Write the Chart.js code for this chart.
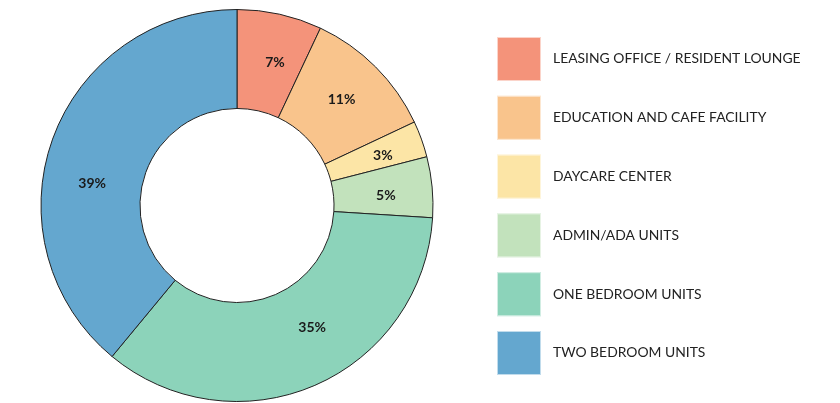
<!DOCTYPE html>
<html lang="en">
<head>
<meta charset="UTF-8">
<title>Space Allocation</title>
<style>
  html, body { margin: 0; padding: 0; background: #fff; }
  #wrap { width: 840px; height: 403px; position: relative; }
</style>
</head>
<body>
<div id="wrap"><canvas id="spaceChart"></canvas></div>

<script src="https://cdn.jsdelivr.net/npm/chart.js"></script>
<script>
  const categories = [
    'LEASING OFFICE / RESIDENT LOUNGE',
    'EDUCATION AND CAFE FACILITY',
    'DAYCARE CENTER',
    'ADMIN/ADA UNITS',
    'ONE BEDROOM UNITS',
    'TWO BEDROOM UNITS'
  ];
  const shares = [7, 11, 3, 5, 35, 39];
  const colours = ['#F4937A', '#F9C48C', '#FCE5A6', '#C2E2BC', '#8CD3BA', '#64A7CF'];

  // small nudges so the percent labels sit where the original has them
  const labelNudge = [[6, 0], [1, -2], [8, 0], [3, 4], [17, -12], [-7, 28]];

  const sliceLabels = {
    id: 'sliceLabels',
    afterDatasetsDraw(chart) {
      const ctx = chart.ctx;
      const meta = chart.getDatasetMeta(0);
      ctx.save();
      ctx.font = 'bold 14px Lato, sans-serif';
      ctx.fillStyle = '#1a1a1a';
      ctx.textAlign = 'center';
      ctx.textBaseline = 'middle';
      meta.data.forEach((arc, i) => {
        const p = arc.tooltipPosition();
        ctx.fillText(shares[i] + '%', p.x + labelNudge[i][0], p.y + labelNudge[i][1]);
      });
      ctx.restore();
    }
  };

  // legend on the right, one row per category
  const sideLegend = {
    id: 'sideLegend',
    afterDraw(chart) {
      const ctx = chart.ctx;
      ctx.save();
      categories.forEach((name, i) => {
        const y = 37 + i * 58.8;
        ctx.fillStyle = colours[i];
        ctx.fillRect(497, y, 44, 44);
        ctx.strokeStyle = 'rgba(255,255,255,0.6)';
        ctx.lineWidth = 1;
        ctx.strokeRect(497.5, y + 0.5, 43, 43);
        ctx.fillStyle = '#222';
        ctx.font = '13.9px Lato, sans-serif';
        ctx.textBaseline = 'middle';
        ctx.fillText(name, 553, y + 22);
      });
      ctx.restore();
    }
  };

  new Chart(document.getElementById('spaceChart'), {
    type: 'doughnut',
    data: {
      labels: categories,
      datasets: [{
        data: shares,
        backgroundColor: colours,
        borderColor: '#222',
        borderWidth: 1
      }]
    },
    options: {
      responsive: true,
      maintainAspectRatio: false,
      animation: false,
      cutout: '49.5%',
      layout: { padding: { left: 0, right: 366, top: 9, bottom: 1 } },
      plugins: {
        legend: { display: false },
        tooltip: { enabled: false }
      }
    },
    plugins: [sliceLabels, sideLegend]
  });
</script>
</body>
</html>
